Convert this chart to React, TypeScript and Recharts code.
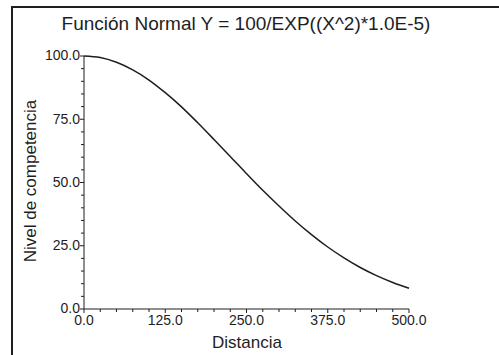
import React from 'react';
import { LineChart, Line, XAxis, YAxis } from 'recharts';

// values
const distancia = [0, 25, 50, 75, 100, 125, 150, 175, 200, 225, 250, 275, 300, 325, 350, 375, 400, 425, 450, 475, 500];
const nivel = [100, 99.4, 97.5, 94.5, 90.5, 85.5, 79.9, 73.6, 67.0, 60.3, 53.5, 46.9, 40.7, 34.8, 29.4, 24.5, 20.2, 16.4, 13.2, 10.5, 8.2];

const xTicks = [0, 25, 50, 75, 100, 125, 150, 175, 200, 225, 250, 275, 300, 325, 350, 375, 400, 425, 450, 475, 500];
const xMajor = [0, 125, 250, 375, 500];
const yTicks = [0, 5, 10, 15, 20, 25, 30, 35, 40, 45, 50, 55, 60, 65, 70, 75, 80, 85, 90, 95, 100];
const yMajor = [0, 25, 50, 75, 100];

const data = distancia.map((x, i) => ({ x, y: nivel[i] }));

const font = '"Liberation Sans", Arial, sans-serif';
const ink = '#1e1e1e';

const XTick = (props: any) => {
  const { x, y, payload } = props;
  const major = xMajor.includes(payload.value);
  return (
    <g>
      <line x1={x} x2={x} y1={y} y2={y + (major ? 4 : 3)} stroke={ink} strokeWidth={1} />
      {major && (
        <text x={x} y={y + 16} textAnchor="middle" fontSize={14} fontFamily={font} fill={ink}>
          {payload.value.toFixed(1)}
        </text>
      )}
    </g>
  );
};

const YTick = (props: any) => {
  const { x, y, payload } = props;
  const major = yMajor.includes(payload.value);
  return (
    <g>
      <line x1={x} x2={x - (major ? 4 : 3)} y1={y} y2={y} stroke={ink} strokeWidth={1} />
      {major && (
        <text x={x - 4} y={y - 0.5} dy="0.35em" textAnchor="end" fontSize={14} fontFamily={font} fill={ink}>
          {payload.value.toFixed(1)}
        </text>
      )}
    </g>
  );
};

export default function App() {
  return (
    <div style={{ position: 'absolute', left: 0, top: 0, width: 499, height: 355, background: '#fff', overflow: 'hidden' }}>
      <div
        style={{
          position: 'absolute',
          left: 11,
          top: 6,
          width: 520,
          height: 380,
          border: `2px solid ${ink}`,
          boxSizing: 'border-box',
        }}
      />
      <div style={{ position: 'absolute', left: 0, top: 0 }}>
        <LineChart width={499} height={355} data={data} margin={{ top: 56, right: 90, bottom: 0, left: 0 }}>
          <XAxis
            dataKey="x"
            type="number"
            domain={[0, 500]}
            ticks={xTicks}
            interval={0}
            height={46}
            tickSize={0}
            tickMargin={0}
            tickLine={false}
            axisLine={{ stroke: ink, strokeWidth: 1 }}
            tick={<XTick />}
          />
          <YAxis
            type="number"
            domain={[0, 100]}
            ticks={yTicks}
            interval={0}
            width={84}
            tickSize={0}
            tickMargin={0}
            tickLine={false}
            axisLine={{ stroke: ink, strokeWidth: 1 }}
            tick={<YTick />}
          />
          <Line
            type="monotone"
            dataKey="y"
            stroke={ink}
            strokeWidth={1.5}
            dot={false}
            isAnimationActive={false}
          />
        </LineChart>
      </div>
      <svg width={499} height={355} style={{ position: 'absolute', left: 0, top: 0, pointerEvents: 'none' }}>
        <text x={246} y={30} textAnchor="middle" fontSize={19} fontFamily={font} fill={ink}>
          Función Normal Y = 100/EXP((X^2)*1.0E-5)
        </text>
        <text x={247} y={348} textAnchor="middle" fontSize={17} fontFamily={font} fill={ink}>
          Distancia
        </text>
        <text
          transform="translate(36,181) rotate(-90)"
          textAnchor="middle"
          fontSize={17}
          fontFamily={font}
          fill={ink}
        >
          Nivel de competencia
        </text>
      </svg>
    </div>
  );
}
